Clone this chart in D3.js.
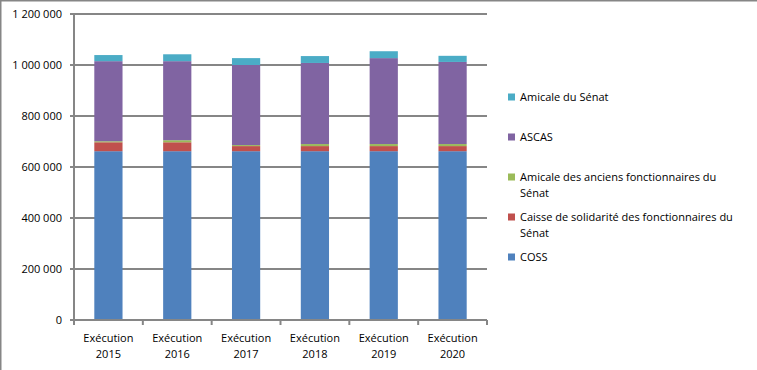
<!DOCTYPE html>
<html>
<head>
<meta charset="utf-8">
<script src="https://cdn.jsdelivr.net/npm/d3@7"></script>
<style>
  html, body { margin: 0; padding: 0; background: #fff; }
  svg { display: block; font-family: "Open Sans", "Lato", sans-serif; font-size: 11px; }
  .lbl { fill: #000; }
</style>
</head>
<body>
<div id="chart"></div>
<script>
// Sénat - subventions aux associations du personnel (stacked columns)

const YEARS = ["2015", "2016", "2017", "2018", "2019", "2020"];
const COSS            = [662000, 662000, 662000, 662000, 662000, 662000];
const CAISSE          = [35000, 35000, 20000, 20000, 20000, 20000];
const AMICALE_ANCIENS = [4000, 8000, 4000, 8000, 8000, 8000];
const ASCAS           = [314000, 310000, 314000, 318000, 337000, 322000];
const AMICALE_SENAT   = [24000, 27000, 27000, 27000, 27000, 24000];
const Y_TICKS = [0, 200000, 400000, 600000, 800000, 1000000, 1200000];

// stack order, bottom to top
const SERIES = [
  { key: "coss",    name: ["COSS"], values: COSS, color: "#4F81BD" },
  { key: "caisse",  name: ["Caisse de solidarité des fonctionnaires du", "Sénat"], values: CAISSE, color: "#C0504D" },
  { key: "anciens", name: ["Amicale des anciens fonctionnaires du", "Sénat"], values: AMICALE_ANCIENS, color: "#9BBB59" },
  { key: "ascas",   name: ["ASCAS"], values: ASCAS, color: "#8064A2" },
  { key: "senat",   name: ["Amicale du Sénat"], values: AMICALE_SENAT, color: "#4BACC6" }
];

const W = 757, H = 370;
const plot = { left: 74, right: 487, top: 14, bottom: 320 };
const GRID = "#868686";

const fr = d3.formatLocale({ decimal: ",", thousands: " ", grouping: [3], currency: ["", " €"] });
const fmt = fr.format(",d");

const svg = d3.select("#chart").append("svg")
    .attr("width", W).attr("height", H);

// outer frame (only top and left edges are visible in the crop)
svg.append("line").attr("x1", 0).attr("x2", W).attr("y1", 0.5).attr("y2", 0.5)
    .attr("stroke", GRID).attr("stroke-width", 2);
svg.append("line").attr("x1", 0.5).attr("x2", 0.5).attr("y1", 0).attr("y2", H)
    .attr("stroke", GRID).attr("stroke-width", 2);

const x = d3.scaleBand().domain(YEARS).range([plot.left, plot.right]).paddingInner(0.59).paddingOuter(0.295);
const y = d3.scaleLinear().domain([0, 1200000]).range([plot.bottom, plot.top]);

// gridlines + tick marks
svg.append("g").selectAll("line").data(Y_TICKS.filter(d => d > 0)).join("line")
    .attr("x1", plot.left - 4).attr("x2", plot.right)
    .attr("y1", d => Math.round(y(d))).attr("y2", d => Math.round(y(d)))
    .attr("stroke", GRID).attr("stroke-width", 2);

// stacked bars
const table = YEARS.map((yr, i) => {
  const row = { year: yr };
  SERIES.forEach(s => row[s.key] = s.values[i]);
  return row;
});
const stacked = d3.stack().keys(SERIES.map(s => s.key))(table);

svg.append("g").selectAll("g").data(stacked).join("g")
    .attr("fill", (d, i) => SERIES[i].color)
  .selectAll("rect").data(d => d).join("rect")
    .attr("x", d => x(d.data.year))
    .attr("width", x.bandwidth())
    .attr("y", d => y(d[1]))
    .attr("height", d => y(d[0]) - y(d[1]));

// axes lines
svg.append("line").attr("x1", plot.left).attr("x2", plot.left)
    .attr("y1", plot.top - 1).attr("y2", plot.bottom + 1)
    .attr("stroke", GRID).attr("stroke-width", 2);
svg.append("line").attr("x1", plot.left - 4).attr("x2", plot.right)
    .attr("y1", plot.bottom).attr("y2", plot.bottom)
    .attr("stroke", GRID).attr("stroke-width", 2);

// x tick marks at band boundaries
const step = x.step();
const bounds = YEARS.map((d, i) => plot.left + i * step).concat([plot.right]);
svg.append("g").selectAll("line").data(bounds).join("line")
    .attr("x1", d => d).attr("x2", d => d)
    .attr("y1", plot.bottom).attr("y2", plot.bottom + 5)
    .attr("stroke", GRID).attr("stroke-width", 2);

// y labels
svg.append("g").selectAll("text").data(Y_TICKS).join("text")
    .attr("class", "lbl")
    .attr("x", plot.left - 12).attr("y", d => y(d)).attr("dy", "0.35em")
    .attr("text-anchor", "end")
    .text(d => fmt(d));

// x labels
const xl = svg.append("g").selectAll("text").data(YEARS).join("text")
    .attr("class", "lbl")
    .attr("text-anchor", "middle")
    .attr("x", d => x(d) + x.bandwidth() / 2);
xl.append("tspan").attr("y", 342).text("Exécution");
xl.append("tspan").attr("x", d => x(d) + x.bandwidth() / 2).attr("y", 358).text(d => d);

// legend, top to bottom = reverse stack order
const LEG_Y = [97, 137, 177, 217, 257];
const legend = svg.append("g").selectAll("g").data(SERIES.slice().reverse()).join("g")
    .attr("transform", (d, i) => `translate(508,${LEG_Y[i]})`);
legend.append("rect").attr("x", 0).attr("y", -3.5).attr("width", 7).attr("height", 7)
    .attr("fill", d => d.color);
legend.append("text").attr("class", "lbl")
  .selectAll("tspan").data(d => d.name).join("tspan")
    .attr("x", 12).attr("y", (d, i) => i * 16).attr("dy", "0.35em")
    .text(d => d);
</script>
</body>
</html>
